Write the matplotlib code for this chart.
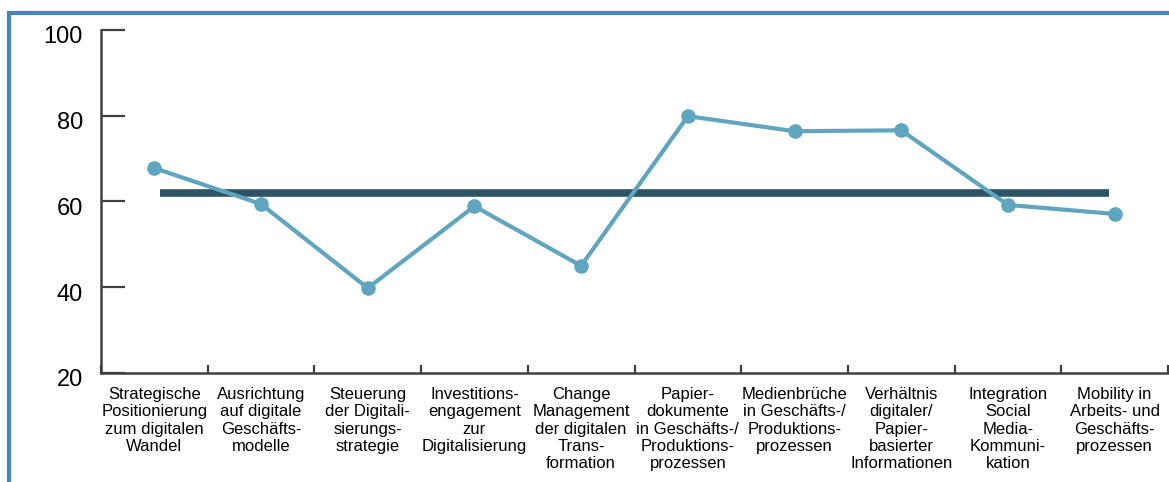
import matplotlib.pyplot as plt
import matplotlib.transforms as mtransforms
from matplotlib.patches import Rectangle

plt.rcParams['font.family'] = ['Liberation Sans', 'DejaVu Sans']

categories = [
    'Strategische\nPositionierung\nzum digitalen\nWandel',
    'Ausrichtung\nauf digitale\nGeschäfts-\nmodelle',
    'Steuerung\nder Digitali-\nsierungs-\nstrategie',
    'Investitions-\nengagement\nzur\nDigitalisierung',
    'Change\nManagement\nder digitalen\nTrans-\nformation',
    'Papier-\ndokumente\nin Geschäfts-/\nProduktions-\nprozessen',
    'Medienbrüche\nin Geschäfts-/\nProduktions-\nprozessen',
    'Verhältnis\ndigitaler/\nPapier-\nbasierter\nInformationen',
    'Integration\nSocial\nMedia-\nKommuni-\nkation',
    'Mobility in\nArbeits- und\nGeschäfts-\nprozessen',
]
values = [67.8, 59.4, 39.8, 58.9, 45.0, 79.9, 76.4, 76.6, 59.2, 57.1]
average = 62.0
yticks = [20, 40, 60, 80, 100]

blue = '#5fa5bf'
dark = '#2c5567'
axis_col = '#404040'

fig = plt.figure(figsize=(11.69, 4.82), dpi=100)
ax = fig.add_axes([101 / 1169, 1 - 373 / 482, 1067 / 1169, 343 / 482])

x = list(range(len(values)))
ax.hlines(average, 0.05, len(values) - 1.05, color=dark, lw=5.5, zorder=2)
ax.plot(x, values, color=blue, lw=3, marker='o', ms=9.5, zorder=3)

ax.set_xlim(-0.5, len(values) - 0.5)
ax.set_ylim(20, 100)
ax.set_yticks(yticks)
ax.set_yticklabels([str(t) for t in yticks], fontsize=17)
ax.tick_params(axis='y', direction='in', length=17, width=1.6, color=axis_col, pad=13)
shift = mtransforms.ScaledTranslation(0, -5 / 100, fig.dpi_scale_trans)
for lab in ax.get_yticklabels():
    lab.set_transform(lab.get_transform() + shift)

ax.set_xticks(x)
ax.set_xticklabels(categories, fontsize=12, linespacing=1.2, va='top')
ax.tick_params(axis='x', which='major', length=0, pad=10)
ax.set_xticks([i - 0.5 for i in range(len(values) + 1)], minor=True)
ax.tick_params(axis='x', which='minor', direction='in', length=6, width=1.6, color=axis_col)

for side in ['top', 'right']:
    ax.spines[side].set_visible(False)
for side in ['left', 'bottom']:
    ax.spines[side].set_color(axis_col)
    ax.spines[side].set_linewidth(1.8)

# blue frame around the whole chart (only top/left visible)
fig.patches.append(Rectangle((9 / 1169, -0.1), 1.2, 1 - 13 / 482 + 0.1,
                             transform=fig.transFigure, fill=False,
                             edgecolor='#4f81bd', lw=3))

fig.savefig('out.png', dpi=100)
